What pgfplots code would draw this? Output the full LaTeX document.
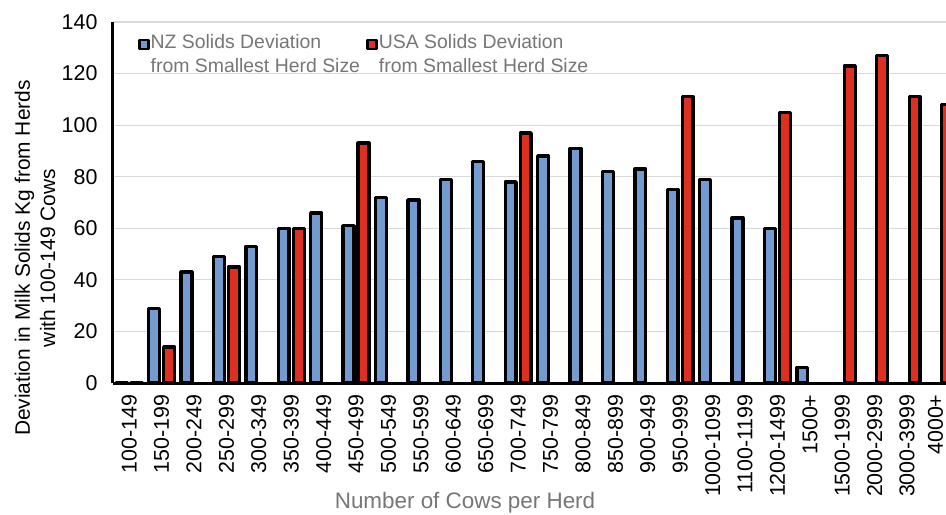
\documentclass[border=0pt]{standalone}
\usepackage{fontspec}
\setmainfont{Liberation Sans}
\usepackage{pgfplots}
\pgfplotsset{compat=1.18}

\definecolor{nzblue}{RGB}{114,156,208}
\definecolor{usred}{RGB}{222,48,32}
\definecolor{gridgray}{RGB}{217,217,217}
\definecolor{labgray}{RGB}{118,118,118}

\begin{document}
\begin{tikzpicture}
\begin{axis}[
    scale only axis, width=833bp, height=361bp,
    ybar, bar width=0.335,
    xmin=-0.5, xmax=25.2, ymin=0, ymax=140,
    clip=true,
    axis lines*=left, axis line style={line width=3bp, black},
    ytick={0,20,...,140}, ymajorgrids, grid style={gridgray, line width=1.2bp},
    xtick={0,...,25},
    xticklabels={100-149,150-199,200-249,250-299,300-349,350-399,400-449,450-499,500-549,550-599,600-649,650-699,700-749,750-799,800-849,850-899,900-949,950-999,1000-1099,1100-1199,1200-1499,1500+,1500-1999,2000-2999,3000-3999,{\raisebox{4bp}[\height][\depth]{4000+}}},
    x tick label style={rotate=90, anchor=east, font=\fontsize{21.5}{25}\selectfont},
    y tick label style={font=\fontsize{21.5}{25}\selectfont},
    xticklabel shift=8bp, yticklabel shift=12bp,
    /pgf/number format/assume math mode=true,
    major tick length=0pt,
    xlabel={Number of Cows per Herd},
    xlabel style={font=\fontsize{22.5}{26}\selectfont, text=labgray,
        at={(axis description cs:0.4226,-0.332)}, anchor=center},
    ylabel={Deviation in Milk Solids Kg from Herds\\with 100-149 Cows},
    ylabel style={font=\fontsize{21}{25.5}\selectfont, align=center,
        at={(axis description cs:-0.0936,0.346)}, anchor=center},
    legend columns=2,
    legend style={draw=none, fill=none, at={(0.026,0.975)}, anchor=north west,
        font=\fontsize{19.5}{24}\selectfont, text=labgray,
        nodes={align=left, inner sep=1bp},
        /tikz/every even column/.append style={column sep=5bp}},
    legend cell align=left,
    legend image code/.code={\draw[#1, line width=2.8bp] (0bp,5bp) rectangle (9bp,14bp);},
]
\addplot[fill=nzblue, draw=black, line width=3.4bp, line join=round, bar shift=-0.232] coordinates {
 (0,0) (1,29) (2,43) (3,49) (4,53) (5,60) (6,66) (7,61) (8,72) (9,71) (10,79)
 (11,86) (12,78) (13,88) (14,91) (15,82) (16,83) (17,75) (18,79) (19,64) (20,60) (21,6)};
\addplot[fill=usred, draw=black, line width=3.4bp, line join=round, bar shift=0.232] coordinates {
 (0,0) (1,14) (3,45) (5,60) (7,93) (12,97) (17,111) (20,105) (22,123) (23,127) (24,111) (25,108)};
\legend{NZ Solids Deviation\\from Smallest Herd Size, USA Solids Deviation\\from Smallest Herd Size}
\end{axis}
\pgfresetboundingbox
\path ([xshift=-113bp,yshift=-132bp]current axis.south west) rectangle ([yshift=22bp]current axis.north east);
\end{tikzpicture}
\end{document}
